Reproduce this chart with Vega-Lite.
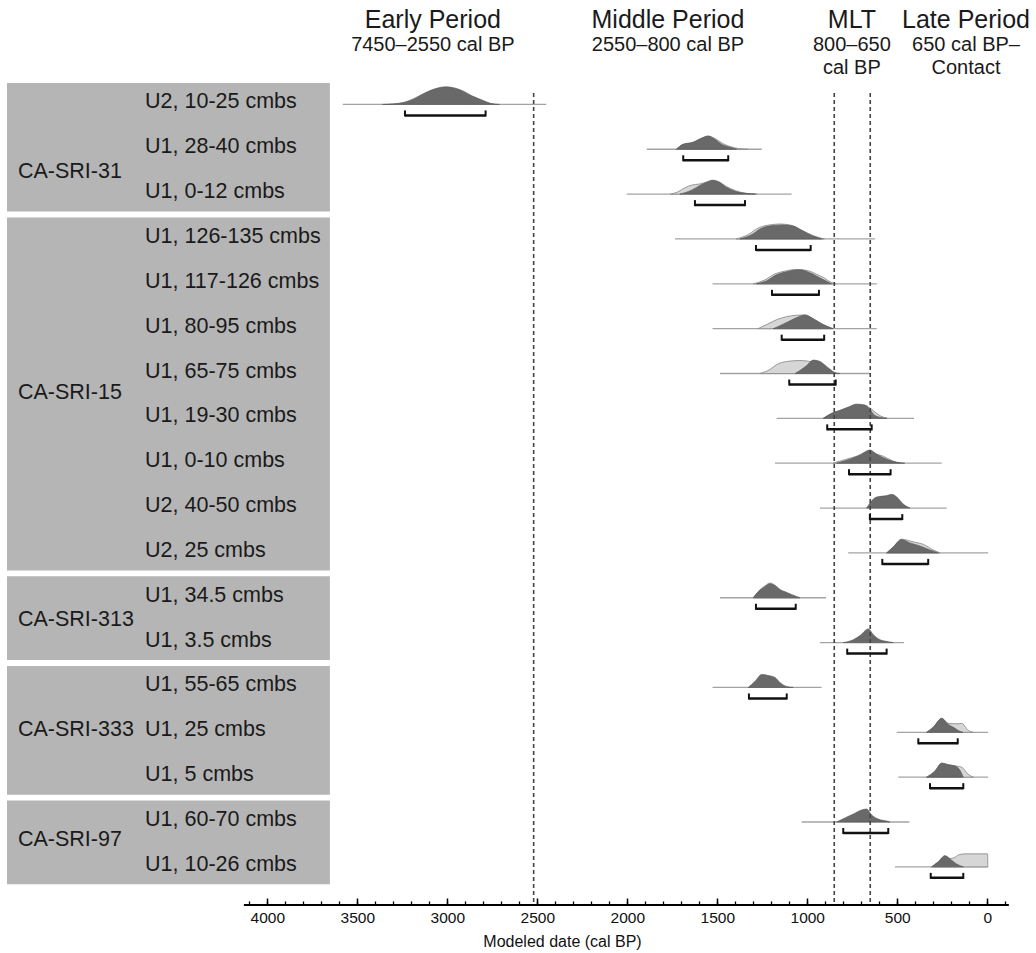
{
  "$schema": "https://vega.github.io/schema/vega-lite/v6.json",
  "width": 1004,
  "height": 825,
  "autosize": {"type": "none"},
  "padding": {"left": 7, "top": 80, "right": 25, "bottom": 48},
  "background": "white",
  "config": {"view": {"stroke": null}, "font": "Liberation Sans"},
  "datasets": {
    "rows": [
      {"r": 0, "label": "U2, 10-25 cmbs", "lo": 3580, "hi": 2450, "cLo": 3235, "cHi": 2787},
      {"r": 1, "label": "U1, 28-40 cmbs", "lo": 1892, "hi": 1253, "cLo": 1689, "cHi": 1439},
      {"r": 2, "label": "U1, 0-12 cmbs", "lo": 2003, "hi": 1087, "cLo": 1624, "cHi": 1346},
      {"r": 3, "label": "U1, 126-135 cmbs", "lo": 1735, "hi": 624, "cLo": 1285, "cHi": 981},
      {"r": 4, "label": "U1, 117-126 cmbs", "lo": 1526, "hi": 614, "cLo": 1196, "cHi": 935},
      {"r": 5, "label": "U1, 80-95 cmbs", "lo": 1526, "hi": 614, "cLo": 1142, "cHi": 906},
      {"r": 6, "label": "U1, 65-75 cmbs", "lo": 1485, "hi": 652, "cLo": 1100, "cHi": 842},
      {"r": 7, "label": "U1, 19-30 cmbs", "lo": 1170, "hi": 407, "cLo": 889, "cHi": 642},
      {"r": 8, "label": "U1, 0-10 cmbs", "lo": 1179, "hi": 253, "cLo": 768, "cHi": 537},
      {"r": 9, "label": "U2, 40-50 cmbs", "lo": 929, "hi": 226, "cLo": 652, "cHi": 472},
      {"r": 10, "label": "U2, 25 cmbs", "lo": 772, "hi": -5, "cLo": 583, "cHi": 328},
      {"r": 11, "label": "U1, 34.5 cmbs", "lo": 1485, "hi": 896, "cLo": 1285, "cHi": 1064},
      {"r": 12, "label": "U1, 3.5 cmbs", "lo": 929, "hi": 463, "cLo": 778, "cHi": 559},
      {"r": 13, "label": "U1, 55-65 cmbs", "lo": 1526, "hi": 920, "cLo": 1324, "cHi": 1114},
      {"r": 14, "label": "U1, 25 cmbs", "lo": 503, "hi": -5, "cLo": 383, "cHi": 164},
      {"r": 15, "label": "U1, 5 cmbs", "lo": 494, "hi": -5, "cLo": 318, "cHi": 133},
      {"r": 16, "label": "U1, 60-70 cmbs", "lo": 1031, "hi": 433, "cLo": 800, "cHi": 550},
      {"r": 17, "label": "U1, 10-26 cmbs", "lo": 513, "hi": -5, "cLo": 314, "cHi": 133}
    ],
    "sites": [
      {"site": "CA-SRI-31", "first": 0, "last": 2, "ypos": 1.55},
      {"site": "CA-SRI-15", "first": 3, "last": 10, "ypos": 6.48},
      {"site": "CA-SRI-313", "first": 11, "last": 12, "ypos": 11.55},
      {"site": "CA-SRI-333", "first": 13, "last": 15, "ypos": 14.0},
      {"site": "CA-SRI-97", "first": 16, "last": 17, "ypos": 16.45}
    ],
    "periods": [
      {"name": "Early Period", "sub1": "7450–2550 cal BP", "sub2": "", "x": 3080},
      {"name": "Middle Period", "sub1": "2550–800 cal BP", "sub2": "", "x": 1774},
      {"name": "MLT", "sub1": "800–650", "sub2": "cal BP", "x": 752},
      {"name": "Late Period", "sub1": "650 cal BP–", "sub2": "Contact", "x": 118}
    ],
    "bounds": [{"x": 2520}, {"x": 850}, {"x": 650}],
    "dark": [
      {"r":0,"x":3360,"d":0},{"r":0,"x":3300,"d":0.04},{"r":0,"x":3240,"d":0.15},{"r":0,"x":3180,"d":0.45},{"r":0,"x":3120,"d":0.85},{"r":0,"x":3060,"d":1.15},{"r":0,"x":3010,"d":1.26},{"r":0,"x":2960,"d":1.18},{"r":0,"x":2910,"d":0.95},{"r":0,"x":2860,"d":0.6},{"r":0,"x":2800,"d":0.28},{"r":0,"x":2760,"d":0.08},{"r":0,"x":2710,"d":0},
      {"r":1,"x":1726,"d":0},{"r":1,"x":1691,"d":0.36},{"r":1,"x":1635,"d":0.5},{"r":1,"x":1587,"d":0.79},{"r":1,"x":1550,"d":0.95},{"r":1,"x":1513,"d":0.71},{"r":1,"x":1476,"d":0.36},{"r":1,"x":1429,"d":0.14},{"r":1,"x":1392,"d":0},
      {"r":2,"x":1707,"d":0},{"r":2,"x":1680,"d":0.1},{"r":2,"x":1640,"d":0.3},{"r":2,"x":1600,"d":0.6},{"r":2,"x":1560,"d":0.85},{"r":2,"x":1525,"d":1.0},{"r":2,"x":1490,"d":0.85},{"r":2,"x":1450,"d":0.5},{"r":2,"x":1400,"d":0.2},{"r":2,"x":1340,"d":0.05},{"r":2,"x":1290,"d":0},
      {"r":3,"x":1374,"d":0},{"r":3,"x":1302,"d":0.36},{"r":3,"x":1263,"d":0.71},{"r":3,"x":1191,"d":0.96},{"r":3,"x":1135,"d":1.0},{"r":3,"x":1079,"d":0.93},{"r":3,"x":1024,"d":0.57},{"r":3,"x":968,"d":0.21},{"r":3,"x":918,"d":0},
      {"r":4,"x":1282,"d":0},{"r":4,"x":1227,"d":0.21},{"r":4,"x":1171,"d":0.64},{"r":4,"x":1116,"d":0.86},{"r":4,"x":1041,"d":1.0},{"r":4,"x":985,"d":0.79},{"r":4,"x":930,"d":0.43},{"r":4,"x":865,"d":0},
      {"r":5,"x":1189,"d":0},{"r":5,"x":1152,"d":0.21},{"r":5,"x":1106,"d":0.5},{"r":5,"x":1059,"d":0.79},{"r":5,"x":1013,"d":0.98},{"r":5,"x":967,"d":0.71},{"r":5,"x":911,"d":0.29},{"r":5,"x":856,"d":0},
      {"r":6,"x":1068,"d":0},{"r":6,"x":1041,"d":0.21},{"r":6,"x":1003,"d":0.57},{"r":6,"x":966,"d":0.96},{"r":6,"x":929,"d":0.86},{"r":6,"x":892,"d":0.5},{"r":6,"x":846,"d":0.07},{"r":6,"x":819,"d":0},
      {"r":7,"x":911,"d":0},{"r":7,"x":864,"d":0.36},{"r":7,"x":818,"d":0.57},{"r":7,"x":772,"d":0.79},{"r":7,"x":726,"d":1.0},{"r":7,"x":679,"d":0.93},{"r":7,"x":652,"d":0.64},{"r":7,"x":624,"d":0.21},{"r":7,"x":559,"d":0},
      {"r":8,"x":837,"d":0},{"r":8,"x":818,"d":0.07},{"r":8,"x":763,"d":0.29},{"r":8,"x":707,"d":0.57},{"r":8,"x":652,"d":0.95},{"r":8,"x":614,"d":0.64},{"r":8,"x":559,"d":0.29},{"r":8,"x":503,"d":0.07},{"r":8,"x":458,"d":0},
      {"r":9,"x":670,"d":0},{"r":9,"x":652,"d":0.36},{"r":9,"x":614,"d":0.79},{"r":9,"x":559,"d":0.89},{"r":9,"x":531,"d":0.98},{"r":9,"x":503,"d":0.79},{"r":9,"x":467,"d":0.29},{"r":9,"x":429,"d":0},
      {"r":10,"x":559,"d":0},{"r":10,"x":522,"d":0.43},{"r":10,"x":476,"d":0.95},{"r":10,"x":429,"d":0.71},{"r":10,"x":374,"d":0.5},{"r":10,"x":318,"d":0.21},{"r":10,"x":272,"d":0},
      {"r":11,"x":1300,"d":0},{"r":11,"x":1272,"d":0.43},{"r":11,"x":1235,"d":0.79},{"r":11,"x":1207,"d":1.0},{"r":11,"x":1179,"d":0.86},{"r":11,"x":1152,"d":0.57},{"r":11,"x":1114,"d":0.36},{"r":11,"x":1059,"d":0.07},{"r":11,"x":1041,"d":0},
      {"r":12,"x":800,"d":0},{"r":12,"x":744,"d":0.21},{"r":12,"x":707,"d":0.5},{"r":12,"x":661,"d":0.98},{"r":12,"x":633,"d":0.57},{"r":12,"x":596,"d":0.21},{"r":12,"x":550,"d":0.07},{"r":12,"x":522,"d":0},
      {"r":13,"x":1328,"d":0},{"r":13,"x":1291,"d":0.43},{"r":13,"x":1253,"d":0.93},{"r":13,"x":1217,"d":0.86},{"r":13,"x":1179,"d":0.71},{"r":13,"x":1152,"d":0.36},{"r":13,"x":1114,"d":0.07},{"r":13,"x":1078,"d":0},
      {"r":14,"x":337,"d":0},{"r":14,"x":300,"d":0.36},{"r":14,"x":253,"d":1.0},{"r":14,"x":217,"d":0.57},{"r":14,"x":179,"d":0.29},{"r":14,"x":152,"d":0.07},{"r":14,"x":135,"d":0},
      {"r":15,"x":337,"d":0},{"r":15,"x":291,"d":0.43},{"r":15,"x":253,"d":1.0},{"r":15,"x":217,"d":0.89},{"r":15,"x":179,"d":0.79},{"r":15,"x":152,"d":0.5},{"r":15,"x":133,"d":0},
      {"r":16,"x":837,"d":0},{"r":16,"x":791,"d":0.29},{"r":16,"x":744,"d":0.57},{"r":16,"x":698,"d":0.86},{"r":16,"x":670,"d":0.93},{"r":16,"x":642,"d":0.5},{"r":16,"x":606,"d":0.21},{"r":16,"x":559,"d":0.07},{"r":16,"x":541,"d":0},
      {"r":17,"x":309,"d":0},{"r":17,"x":272,"d":0.36},{"r":17,"x":235,"d":0.79},{"r":17,"x":207,"d":0.57},{"r":17,"x":170,"d":0.21},{"r":17,"x":133,"d":0}
    ],
    "light": [
      {"r":1,"x":1730,"d":0},{"r":1,"x":1690,"d":0.33},{"r":1,"x":1635,"d":0.48},{"r":1,"x":1590,"d":0.78},{"r":1,"x":1550,"d":0.93},{"r":1,"x":1510,"d":0.75},{"r":1,"x":1470,"d":0.42},{"r":1,"x":1430,"d":0.2},{"r":1,"x":1380,"d":0.05},{"r":1,"x":1330,"d":0},
      {"r":2,"x":1760,"d":0},{"r":2,"x":1720,"d":0.15},{"r":2,"x":1680,"d":0.45},{"r":2,"x":1640,"d":0.65},{"r":2,"x":1600,"d":0.72},{"r":2,"x":1560,"d":0.85},{"r":2,"x":1525,"d":0.97},{"r":2,"x":1490,"d":0.88},{"r":2,"x":1450,"d":0.55},{"r":2,"x":1400,"d":0.25},{"r":2,"x":1340,"d":0.06},{"r":2,"x":1280,"d":0},
      {"r":3,"x":1395,"d":0},{"r":3,"x":1330,"d":0.3},{"r":3,"x":1270,"d":0.8},{"r":3,"x":1200,"d":1.02},{"r":3,"x":1150,"d":1.07},{"r":3,"x":1090,"d":0.98},{"r":3,"x":1030,"d":0.62},{"r":3,"x":970,"d":0.25},{"r":3,"x":905,"d":0},
      {"r":4,"x":1300,"d":0},{"r":4,"x":1240,"d":0.25},{"r":4,"x":1180,"d":0.7},{"r":4,"x":1120,"d":0.92},{"r":4,"x":1060,"d":1.03},{"r":4,"x":1000,"d":0.95},{"r":4,"x":950,"d":0.7},{"r":4,"x":910,"d":0.45},{"r":4,"x":870,"d":0.12},{"r":4,"x":840,"d":0},
      {"r":5,"x":1274,"d":0},{"r":5,"x":1226,"d":0.29},{"r":5,"x":1170,"d":0.64},{"r":5,"x":1114,"d":0.86},{"r":5,"x":1059,"d":0.96},{"r":5,"x":1013,"d":0.98},{"r":5,"x":968,"d":0.72},{"r":5,"x":913,"d":0.29},{"r":5,"x":857,"d":0},
      {"r":6,"x":1263,"d":0},{"r":6,"x":1207,"d":0.29},{"r":6,"x":1170,"d":0.64},{"r":6,"x":1114,"d":0.86},{"r":6,"x":1041,"d":0.93},{"r":6,"x":985,"d":0.86},{"r":6,"x":929,"d":0.71},{"r":6,"x":892,"d":0.36},{"r":6,"x":846,"d":0},
      {"r":7,"x":911,"d":0},{"r":7,"x":864,"d":0.36},{"r":7,"x":818,"d":0.57},{"r":7,"x":772,"d":0.8},{"r":7,"x":726,"d":1.02},{"r":7,"x":679,"d":0.95},{"r":7,"x":652,"d":0.75},{"r":7,"x":624,"d":0.45},{"r":7,"x":590,"d":0.15},{"r":7,"x":555,"d":0},
      {"r":8,"x":857,"d":0},{"r":8,"x":781,"d":0.29},{"r":8,"x":726,"d":0.5},{"r":8,"x":670,"d":0.79},{"r":8,"x":633,"d":0.71},{"r":8,"x":578,"d":0.5},{"r":8,"x":522,"d":0.14},{"r":8,"x":485,"d":0},
      {"r":10,"x":559,"d":0},{"r":10,"x":522,"d":0.43},{"r":10,"x":476,"d":0.98},{"r":10,"x":411,"d":0.79},{"r":10,"x":355,"d":0.61},{"r":10,"x":300,"d":0.21},{"r":10,"x":263,"d":0},
      {"r":11,"x":1300,"d":0},{"r":11,"x":1272,"d":0.45},{"r":11,"x":1235,"d":0.85},{"r":11,"x":1207,"d":1.05},{"r":11,"x":1179,"d":0.9},{"r":11,"x":1152,"d":0.6},{"r":11,"x":1114,"d":0.38},{"r":11,"x":1059,"d":0.08},{"r":11,"x":1041,"d":0},
      {"r":14,"x":337,"d":0},{"r":14,"x":300,"d":0.36},{"r":14,"x":253,"d":1.0},{"r":14,"x":217,"d":0.64},{"r":14,"x":170,"d":0.61},{"r":14,"x":142,"d":0.64},{"r":14,"x":106,"d":0.14},{"r":14,"x":78,"d":0},
      {"r":15,"x":337,"d":0},{"r":15,"x":291,"d":0.43},{"r":15,"x":253,"d":1.0},{"r":15,"x":217,"d":0.89},{"r":15,"x":170,"d":0.79},{"r":15,"x":142,"d":0.71},{"r":15,"x":106,"d":0.21},{"r":15,"x":78,"d":0},
      {"r":17,"x":309,"d":0},{"r":17,"x":272,"d":0.36},{"r":17,"x":235,"d":0.79},{"r":17,"x":207,"d":0.6},{"r":17,"x":186,"d":0.64},{"r":17,"x":158,"d":0.86},{"r":17,"x":122,"d":0.93},{"r":17,"x":85,"d":0.93},{"r":17,"x":-2,"d":0.93},{"r":17,"x":-3,"d":0}
    ]
  },
  "layer": [
    {
      "data": {"name": "sites"},
      "mark": {"type": "rect", "color": "#b5b5b5", "yOffset": -19.5, "y2Offset": 19.5},
      "encoding": {
        "x": {"datum": 5446, "type": "quantitative", "scale": {"domain": [5446, -132], "nice": false, "zero": false}, "axis": null},
        "x2": {"datum": 3652},
        "y": {"field": "first", "type": "quantitative", "scale": {"domain": [-0.5, 17.895], "reverse": true, "nice": false, "zero": false}, "axis": null},
        "y2": {"field": "last"}
      }
    },
    {
      "data": {"name": "sites"},
      "mark": {"type": "text", "align": "left", "baseline": "middle", "fontSize": 21.5, "color": "#1a1a1a", "font": "Liberation Sans"},
      "encoding": {
        "x": {"datum": 5385, "type": "quantitative", "axis": null},
        "y": {"field": "ypos", "type": "quantitative", "axis": null},
        "text": {"field": "site"}
      }
    },
    {
      "data": {"name": "rows"},
      "mark": {"type": "text", "align": "left", "baseline": "middle", "fontSize": 21.5, "color": "#1a1a1a", "font": "Liberation Sans"},
      "encoding": {
        "x": {"datum": 4679, "type": "quantitative", "axis": null},
        "y": {"field": "r", "type": "quantitative", "axis": null},
        "text": {"field": "label"}
      }
    },
    {
      "data": {"name": "periods"},
      "mark": {"type": "text", "align": "center", "baseline": "middle", "fontSize": 25, "color": "#1a1a1a", "font": "Liberation Sans"},
      "encoding": {
        "x": {"field": "x", "type": "quantitative", "axis": null},
        "y": {"datum": -1.84, "type": "quantitative", "axis": null},
        "text": {"field": "name"}
      }
    },
    {
      "data": {"name": "periods"},
      "mark": {"type": "text", "align": "center", "baseline": "middle", "fontSize": 20, "color": "#1a1a1a", "font": "Liberation Sans"},
      "encoding": {
        "x": {"field": "x", "type": "quantitative", "axis": null},
        "y": {"datum": -1.28, "type": "quantitative", "axis": null},
        "text": {"field": "sub1"}
      }
    },
    {
      "data": {"name": "periods"},
      "mark": {"type": "text", "align": "center", "baseline": "middle", "fontSize": 20, "color": "#1a1a1a", "font": "Liberation Sans"},
      "encoding": {
        "x": {"field": "x", "type": "quantitative", "axis": null},
        "y": {"datum": -0.77, "type": "quantitative", "axis": null},
        "text": {"field": "sub2"}
      }
    },
    {
      "data": {"name": "rows"},
      "mark": {"type": "rule", "color": "#a3a3a3", "strokeWidth": 1.3, "yOffset": 2},
      "encoding": {
        "x": {"field": "lo", "type": "quantitative", "axis": null},
        "x2": {"field": "hi"},
        "y": {"field": "r", "type": "quantitative", "axis": null}
      }
    },
    {
      "data": {"name": "light"},
      "transform": [{"calculate": "datum.r - datum.d * 0.312", "as": "top"}],
      "mark": {"type": "area", "fill": "#d6d6d6", "stroke": "#8f8f8f", "strokeWidth": 0.9, "interpolate": "monotone", "yOffset": 2, "y2Offset": 2},
      "encoding": {
        "x": {"field": "x", "type": "quantitative", "axis": null},
        "y": {"field": "top", "type": "quantitative", "axis": null},
        "y2": {"field": "r"},
        "detail": {"field": "r"}
      }
    },
    {
      "data": {"name": "dark"},
      "transform": [{"calculate": "datum.r - datum.d * 0.312", "as": "top"}],
      "mark": {"type": "area", "fill": "#696969", "stroke": "#555555", "strokeWidth": 0.6, "interpolate": "monotone", "yOffset": 2, "y2Offset": 2},
      "encoding": {
        "x": {"field": "x", "type": "quantitative", "axis": null},
        "y": {"field": "top", "type": "quantitative", "axis": null},
        "y2": {"field": "r"},
        "detail": {"field": "r"}
      }
    },
    {
      "data": {"name": "bounds"},
      "mark": {"type": "rule", "color": "#444444", "strokeWidth": 1.6, "strokeDash": [4, 3]},
      "encoding": {
        "x": {"field": "x", "type": "quantitative", "axis": null},
        "y": {"datum": -0.21, "type": "quantitative", "axis": null},
        "y2": {"datum": 17.895}
      }
    },
    {
      "data": {"name": "rows"},
      "mark": {"type": "rule", "color": "#111111", "strokeWidth": 2.5, "yOffset": 13},
      "encoding": {
        "x": {
          "field": "cLo", "type": "quantitative",
          "axis": {
            "orient": "bottom", "values": [0, 500, 1000, 1500, 2000, 2500, 3000, 3500, 4000], "format": "d",
            "tickSize": -7, "tickWidth": 1.5, "tickColor": "#000000", "domain": false, "grid": false,
            "labelFontSize": 15.5, "labelColor": "#111111", "labelFont": "Liberation Sans", "labelPadding": 12,
            "labelFlush": false, "labelOverlap": false,
            "title": "Modeled date (cal BP)", "titleFontSize": 16, "titleFontWeight": "normal",
            "titleFont": "Liberation Sans", "titleColor": "#111111", "titlePadding": 8, "titleX": 555
          }
        },
        "x2": {"field": "cHi"},
        "y": {"field": "r", "type": "quantitative", "axis": null}
      }
    },
    {
      "data": {"name": "rows"},
      "mark": {"type": "rule", "color": "#111111", "strokeWidth": 2, "yOffset": 14, "y2Offset": 8},
      "encoding": {
        "x": {"field": "cLo", "type": "quantitative", "axis": null},
        "y": {"field": "r", "type": "quantitative", "axis": null},
        "y2": {"field": "r"}
      }
    },
    {
      "data": {"name": "rows"},
      "mark": {"type": "rule", "color": "#111111", "strokeWidth": 2, "yOffset": 14, "y2Offset": 8},
      "encoding": {
        "x": {"field": "cHi", "type": "quantitative", "axis": null},
        "y": {"field": "r", "type": "quantitative", "axis": null},
        "y2": {"field": "r"}
      }
    },
    {
      "data": {"values": [{}]},
      "mark": {"type": "rule", "color": "#000000", "strokeWidth": 2},
      "encoding": {
        "x": {
          "datum": 4130, "type": "quantitative",
          "axis": {
            "orient": "bottom",
            "values": [-100, 0, 100, 200, 300, 400, 500, 600, 700, 800, 900, 1000, 1100, 1200, 1300, 1400, 1500, 1600, 1700, 1800, 1900, 2000, 2100, 2200, 2300, 2400, 2500, 2600, 2700, 2800, 2900, 3000, 3100, 3200, 3300, 3400, 3500, 3600, 3700, 3800, 3900, 4000, 4100],
            "tickSize": -4, "tickWidth": 1.3, "tickColor": "#000000", "labels": false, "domain": false, "grid": false, "title": null
          }
        },
        "x2": {"datum": -120},
        "y": {"datum": 17.895, "type": "quantitative", "axis": null}
      }
    }
  ],
  "resolve": {"axis": {"x": "independent"}}
}
